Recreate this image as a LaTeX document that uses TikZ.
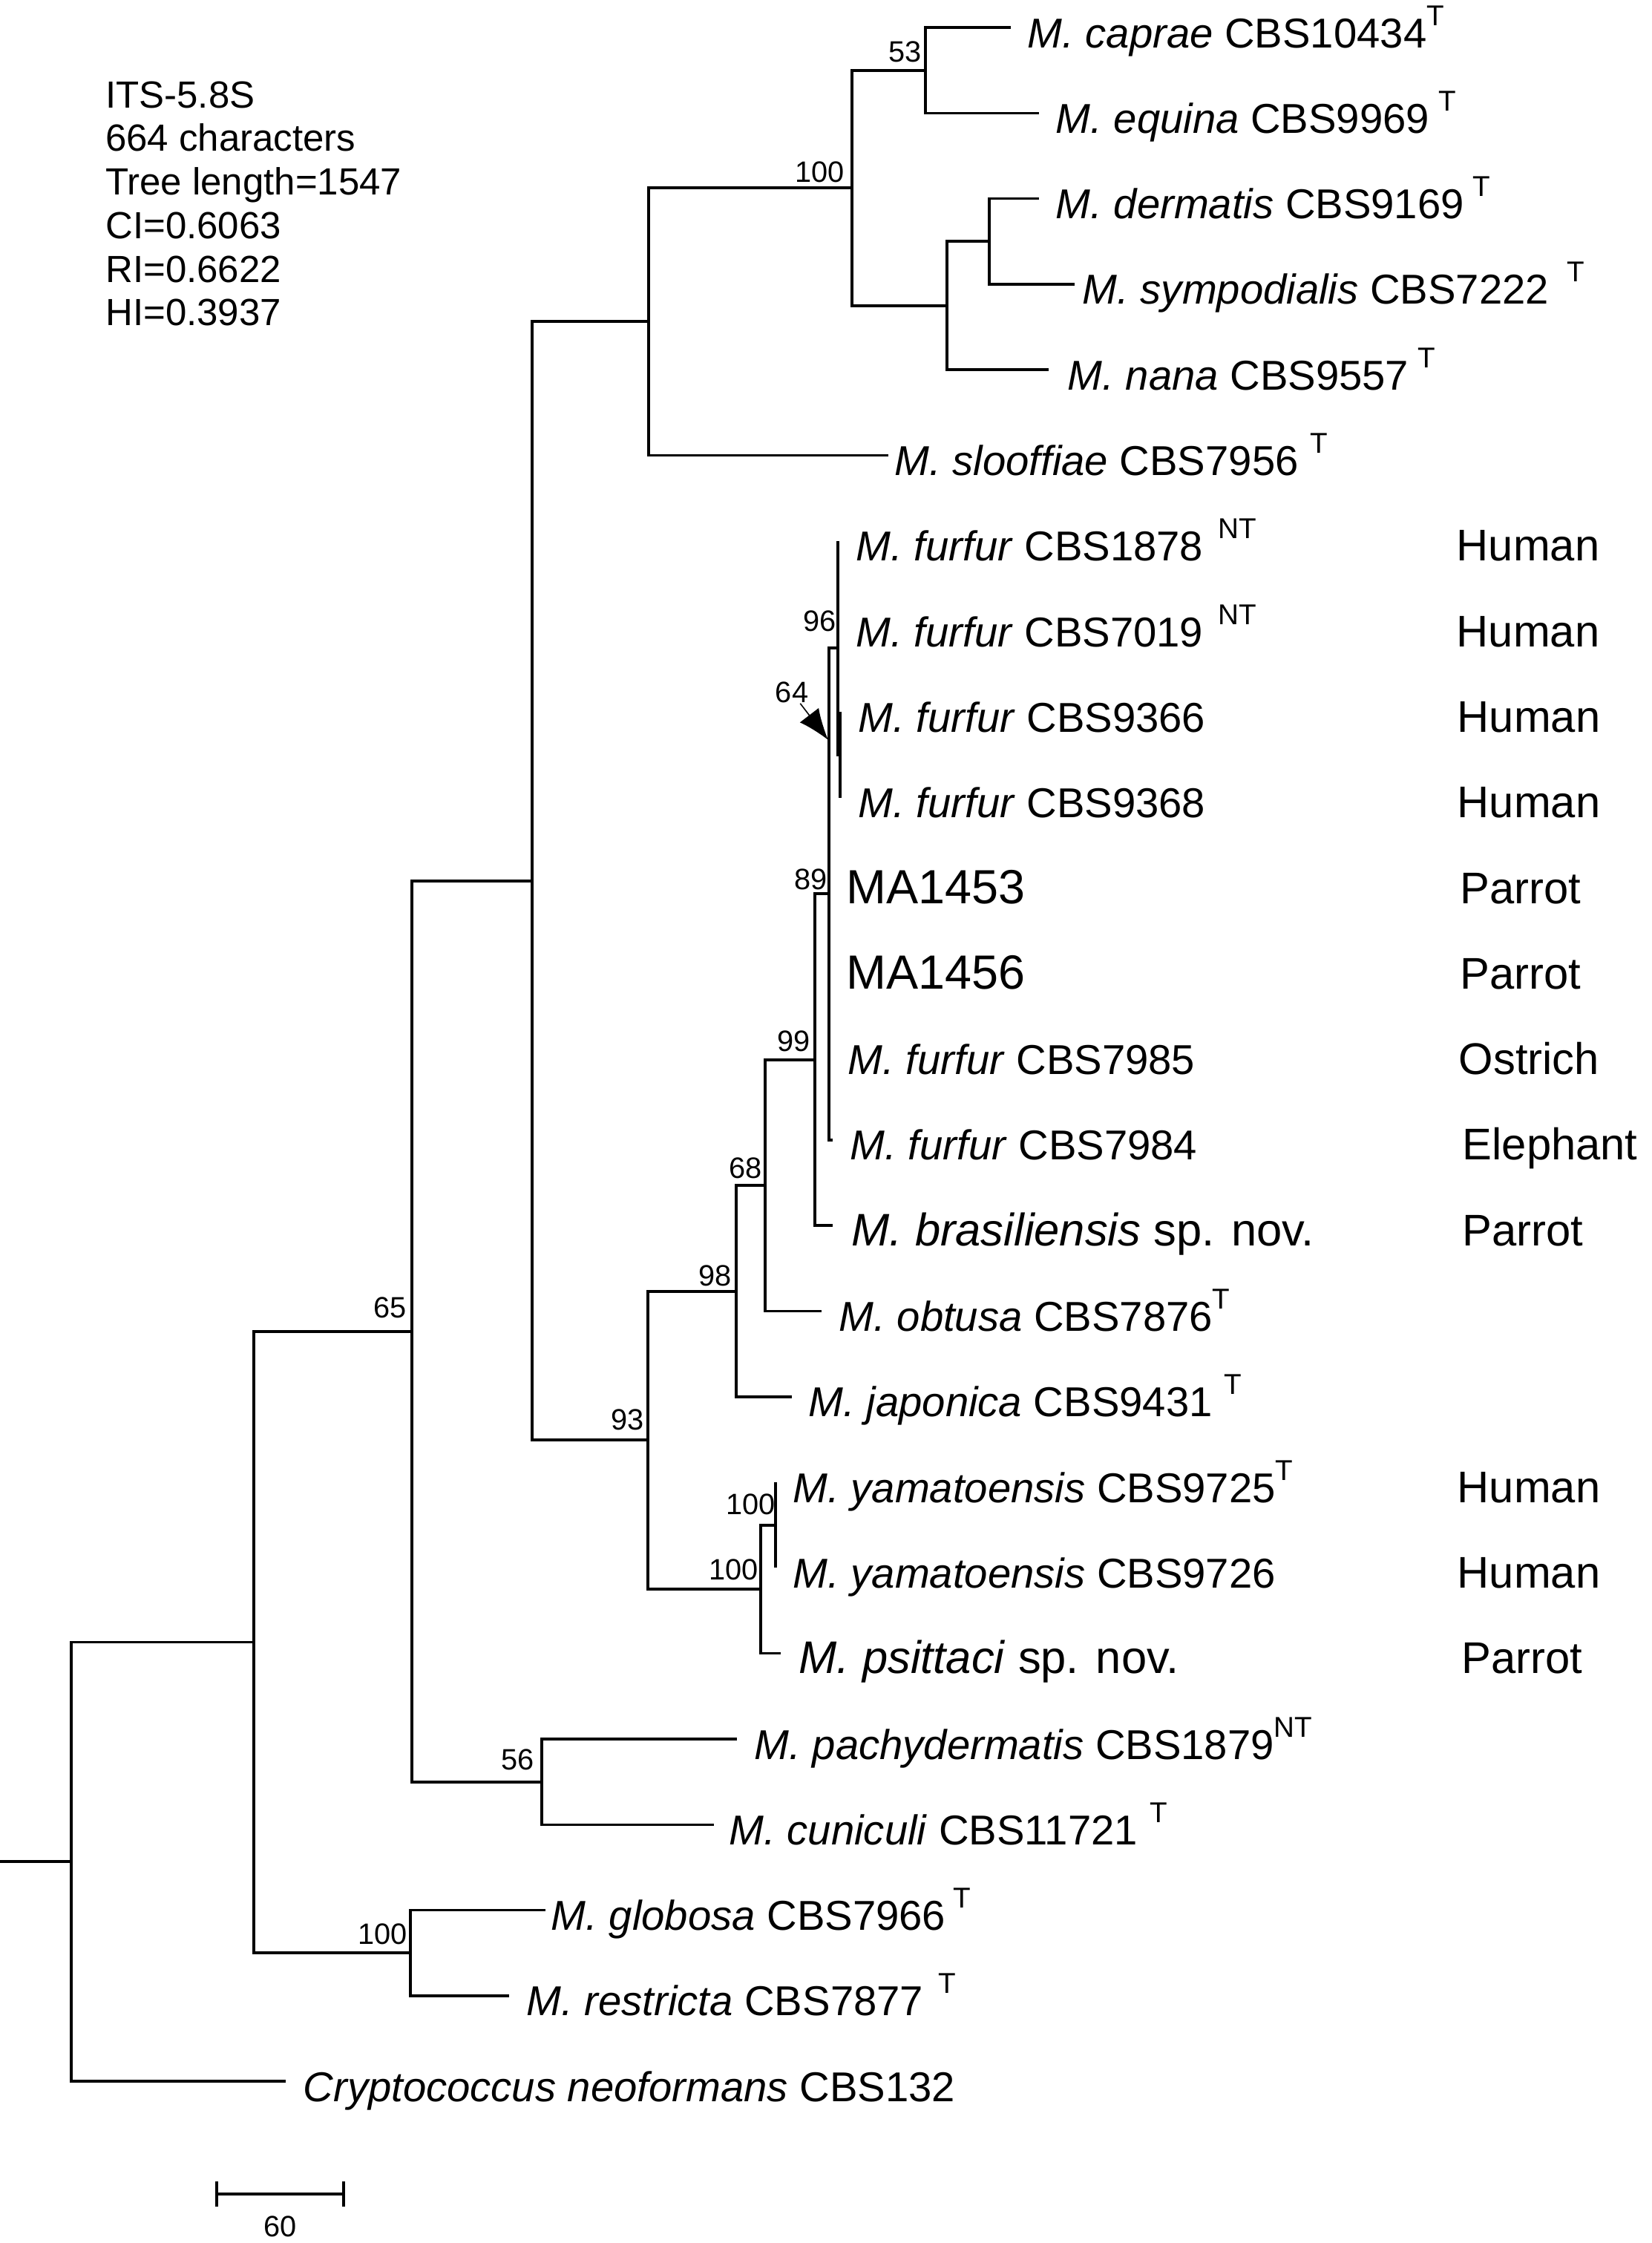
\documentclass[tikz,border=0pt]{standalone}
\usepackage{fontspec}
\setmainfont{Liberation Sans}
\usepackage{tikz}
\usetikzlibrary{arrows.meta,positioning}
\newcommand{\typ}[2][0pt]{\hspace{#1}\raisebox{0.3cm}{\fontsize{11}{12}\selectfont #2}}

\begin{document}
\begin{tikzpicture}[y=-1cm]
	\tikzstyle{branch} = [line width=1pt]
	\tikzstyle{leaf} = [inner sep=0, anchor=base west, yshift=-0.27cm, font=\fontsize{16}{19}\selectfont]
	\tikzstyle{bigleaf} = [leaf, font=\fontsize{17.5}{21}\selectfont]
	\tikzstyle{strain} = [leaf, font=\fontsize{18.4}{22}\selectfont]
	\tikzstyle{host} = [inner sep=0, anchor=base west, font=\fontsize{17}{20}\selectfont]
	\tikzstyle{boot} = [inner sep=0, anchor=base east, font=\fontsize{11.3}{13}\selectfont]
	\tikzstyle{pointer} = [line width=0.45pt, -{Latex[length=0.42cm,width=0.32cm]}]
	\useasboundingbox (0,0) rectangle (22.25,30.22);
	\node (stats) [inner sep=0, anchor=north west, align=left, font=\fontsize{14.5}{16.7}\selectfont] at (1.416,1.09)
		{ITS-5.8S\\664 characters\\Tree length=1547\\CI=0.6063\\RI=0.6622\\HI=0.3937};
	\coordinate (stub) at (0,25.08);
	\coordinate (root) at (0.96,25.08);
	\coordinate (nA) at (3.42,22.125);
	\coordinate (n65) at (5.55,17.94);
	\coordinate (n100c) at (5.53,26.31);
	\coordinate (nD) at (7.17,11.87);
	\coordinate (n56) at (7.30,24.01);
	\coordinate (nF) at (8.74,4.33);
	\coordinate (n93) at (8.73,19.40);
	\coordinate (n100a) at (11.48,2.53);
	\coordinate (n53) at (12.47,0.95);
	\coordinate (nJ) at (12.76,4.12);
	\coordinate (nK) at (13.33,3.25);
	\coordinate (n98) at (9.92,17.40);
	\coordinate (n68) at (10.31,15.97);
	\coordinate (n99) at (10.98,14.28);
	\coordinate (n89) at (11.17,12.04);
	\coordinate (n96) at (11.29,8.73);
	\coordinate (n64) at (11.32,10.17);
	\coordinate (n100m) at (10.25,21.41);
	\coordinate (n100n) at (10.45,20.55);
	\coordinate (caprae) at (13.62,0.37);
	\coordinate (equina) at (14.00,1.523);
	\coordinate (dermatis) at (14.00,2.676);
	\coordinate (sympodialis) at (14.48,3.829);
	\coordinate (nana) at (14.13,4.982);
	\coordinate (slooffiae) at (11.97,6.135);
	\coordinate (furfurA) at (11.29,7.288);
	\coordinate (furfurB) at (11.29,8.441);
	\coordinate (furfurC) at (11.32,9.594);
	\coordinate (furfurD) at (11.32,10.747);
	\coordinate (maA) at (11.17,11.90);
	\coordinate (maB) at (11.17,13.053);
	\coordinate (furfurE) at (11.17,14.206);
	\coordinate (furfurF) at (11.22,15.359);
	\coordinate (brasil) at (11.22,16.512);
	\coordinate (obtusa) at (11.07,17.665);
	\coordinate (japonica) at (10.67,18.818);
	\coordinate (yamA) at (10.45,19.971);
	\coordinate (yamB) at (10.45,21.124);
	\coordinate (psittaci) at (10.52,22.277);
	\coordinate (pachy) at (9.93,23.43);
	\coordinate (cuniculi) at (9.62,24.583);
	\coordinate (globosa) at (7.35,25.736);
	\coordinate (restricta) at (6.86,26.889);
	\coordinate (crypto) at (3.85,28.042);
	\node (capraeL) [right=0.22cm of caprae, leaf] {\textit{M. caprae} CBS10434\typ{T}};
	\node (equinaL) [right=0.22cm of equina, leaf] {\textit{M. equina} CBS9969\typ[0.12cm]{T}};
	\node (dermatisL) [right=0.22cm of dermatis, leaf] {\textit{M. dermatis} CBS9169\typ[0.12cm]{T}};
	\node (sympodialisL) [right=0.10cm of sympodialis, leaf] {\textit{M. sympodialis} CBS7222\typ[0.25cm]{T}};
	\node (nanaL) [right=0.25cm of nana, leaf] {\textit{M. nana} CBS9557\typ[0.12cm]{T}};
	\node (slooffiaeL) [right=0.08cm of slooffiae, leaf] {\textit{M. slooffiae} CBS7956\typ[0.16cm]{T}};
	\node (furfurAL) [right=0.24cm of furfurA, leaf] {\textit{M. furfur} CBS1878\typ[0.2cm]{NT}};
	\node (furfurBL) [right=0.24cm of furfurB, leaf] {\textit{M. furfur} CBS7019\typ[0.2cm]{NT}};
	\node (furfurCL) [right=0.24cm of furfurC, leaf] {\textit{M. furfur} CBS9366};
	\node (furfurDL) [right=0.24cm of furfurD, leaf] {\textit{M. furfur} CBS9368};
	\node (maAL) [right=0.23cm of maA, strain] {MA1453};
	\node (maBL) [right=0.23cm of maB, strain] {MA1456};
	\node (furfurEL) [right=0.25cm of furfurE, leaf] {\textit{M. furfur} CBS7985};
	\node (furfurFL) [right=0.23cm of furfurF, leaf] {\textit{M. furfur} CBS7984};
	\node (brasilL) [right=0.25cm of brasil, bigleaf] {\textit{M. brasiliensis} sp. nov.};
	\node (obtusaL) [right=0.23cm of obtusa, leaf] {\textit{M. obtusa} CBS7876\typ{T}};
	\node (japonicaL) [right=0.22cm of japonica, leaf] {\textit{M. japonica} CBS9431\typ[0.16cm]{T}};
	\node (yamAL) [right=0.23cm of yamA, leaf] {\textit{M. yamatoensis} CBS9725\typ{T}};
	\node (yamBL) [right=0.23cm of yamB, leaf] {\textit{M. yamatoensis} CBS9726};
	\node (psittaciL) [right=0.24cm of psittaci, bigleaf] {\textit{M. psittaci} sp. nov.};
	\node (pachyL) [right=0.23cm of pachy, leaf] {\textit{M. pachydermatis} CBS1879\typ{NT}};
	\node (cuniculiL) [right=0.20cm of cuniculi, leaf] {\textit{M. cuniculi} CBS11721\typ[0.16cm]{T}};
	\node (globosaL) [right=0.07cm of globosa, leaf] {\textit{M. globosa} CBS7966\typ[0.1cm]{T}};
	\node (restrictaL) [right=0.23cm of restricta, leaf] {\textit{M. restricta} CBS7877\typ[0.2cm]{T}};
	\node (cryptoL) [right=0.23cm of crypto, leaf] {\textit{Cryptococcus neoformans} CBS132};
	\node (hostA) [host] at (19.62,7.558) {Human};
	\node (hostB) [host] at (19.62,8.711) {Human};
	\node (hostC) [host] at (19.63,9.864) {Human};
	\node (hostD) [host] at (19.63,11.017) {Human};
	\node (hostE) [host] at (19.67,12.17) {Parrot};
	\node (hostF) [host] at (19.67,13.323) {Parrot};
	\node (hostG) [host] at (19.65,14.476) {Ostrich};
	\node (hostH) [host] at (19.70,15.629) {Elephant};
	\node (hostI) [host] at (19.70,16.782) {Parrot};
	\node (hostJ) [host] at (19.63,20.241) {Human};
	\node (hostK) [host] at (19.63,21.394) {Human};
	\node (hostL) [host] at (19.69,22.547) {Parrot};
	\node (b53) [above left=0.12cm and 0.05cm of n53, boot] {53};
	\node (b100a) [above left=0.08cm and 0.10cm of n100a, boot] {100};
	\node (b96) [above left=0.23cm and 0.02cm of n96, boot] {96};
	\node (b89) [above left=0.06cm and 0.02cm of n89, boot] {89};
	\node (b99) [above left=0.12cm and 0.06cm of n99, boot] {99};
	\node (b68) [above left=0.10cm and 0.04cm of n68, boot] {68};
	\node (b98) [above left=0.08cm and 0.06cm of n98, boot] {98};
	\node (b93) [above left=0.14cm and 0.05cm of n93, boot] {93};
	\node (b100n) [above left=0.15cm and 0cm of n100n, boot] {100};
	\node (b100m) [above left=0.13cm and 0.03cm of n100m, boot] {100};
	\node (b65) [above left=0.19cm and 0.065cm of n65, boot] {65};
	\node (b56) [above left=0.17cm and 0.10cm of n56, boot] {56};
	\node (b100c) [above left=0.12cm and 0.04cm of n100c, boot] {100};
	\node (b64) [boot, anchor=center] at (10.67,9.33) {64};
	\coordinate (tip64) at (11.16,9.97);
	\draw [pointer] (b64) -- (tip64);
	\draw [branch] (stub) -- (root);
	\draw [branch] (root) |- (nA);
	\draw [branch] (root) |- (crypto);
	\draw [branch] (nA) |- (n65);
	\draw [branch] (nA) |- (n100c);
	\draw [branch] (n100c) |- (globosa);
	\draw [branch] (n100c) |- (restricta);
	\draw [branch] (n65) |- (nD);
	\draw [branch] (n65) |- (n56);
	\draw [branch] (n56) |- (pachy);
	\draw [branch] (n56) |- (cuniculi);
	\draw [branch] (nD) |- (nF);
	\draw [branch] (nD) |- (n93);
	\draw [branch] (nF) |- (n100a);
	\draw [branch] (nF) |- (slooffiae);
	\draw [branch] (n100a) |- (n53);
	\draw [branch] (n100a) |- (nJ);
	\draw [branch] (n53) |- (caprae);
	\draw [branch] (n53) |- (equina);
	\draw [branch] (nJ) |- (nK);
	\draw [branch] (nJ) |- (nana);
	\draw [branch] (nK) |- (dermatis);
	\draw [branch] (nK) |- (sympodialis);
	\draw [branch] (n93) |- (n98);
	\draw [branch] (n93) |- (n100m);
	\draw [branch] (n100m) |- (n100n);
	\draw [branch] (n100m) |- (psittaci);
	\draw [branch] (n100n) |- (yamA);
	\draw [branch] (n100n) |- (yamB);
	\draw [branch] (n98) |- (n68);
	\draw [branch] (n98) |- (japonica);
	\draw [branch] (n68) |- (n99);
	\draw [branch] (n68) |- (obtusa);
	\draw [branch] (n99) |- (n89);
	\draw [branch] (n99) |- (brasil);
	\draw [branch] (n89) |- (n96);
	\draw [branch] (n89) |- (maA);
	\draw [branch] (n89) |- (maB);
	\draw [branch] (n89) |- (furfurE);
	\draw [branch] (n89) |- (furfurF);
	\draw [branch] (n96) |- (furfurA);
	\draw [branch] (n96) |- (furfurB);
	\draw [branch] (n96) |- (n64);
	\draw [branch] (n64) |- (furfurC);
	\draw [branch] (n64) |- (furfurD);
	\coordinate (barL) at (2.90,29.56);
	\coordinate (barR) at (4.65,29.56);
	\coordinate (barM) at (3.775,29.56);
	\draw [branch, {Bar[width=0.34cm]}-{Bar[width=0.34cm]}] (barL) -- (barR);
	\node (barLab) [below=0.29cm of barM, inner sep=0, font=\fontsize{11.3}{13}\selectfont] {60};
\end{tikzpicture}
\end{document}
